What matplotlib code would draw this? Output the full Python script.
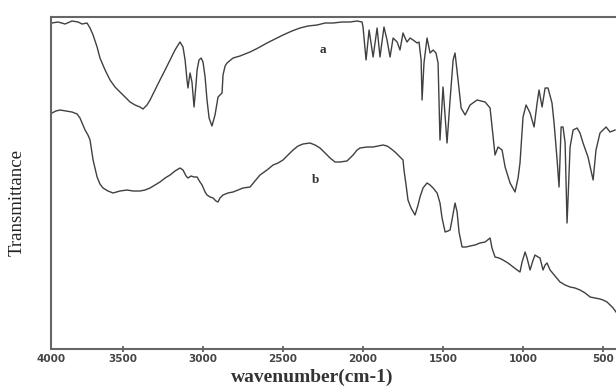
import matplotlib
matplotlib.use("Agg")
import matplotlib.pyplot as plt

# Spectrum a (wavenumber in cm-1, transmittance in arbitrary units)
wn_a = [3944, 3906, 3862, 3819, 3781, 3756, 3725, 3706, 3687, 3662, 3644, 3612, 3581, 3550,
        3519, 3487, 3456, 3425, 3394, 3375, 3350, 3331, 3300, 3269, 3237, 3206, 3175, 3144,
        3125, 3112, 3100, 3094, 3081, 3069, 3056, 3044, 3037, 3025, 3012, 3000, 2987, 2975,
        2962, 2944, 2925, 2906, 2894, 2881, 2875, 2862, 2850, 2812, 2769, 2706, 2656, 2600,
        2550, 2500, 2444, 2394, 2344, 2287, 2237, 2187, 2131, 2081, 2037, 2006, 2000, 1981,
        1962, 1937, 1912, 1894, 1869, 1850, 1831, 1812, 1787, 1769, 1750, 1737, 1725, 1706,
        1687, 1662, 1650, 1637, 1631, 1619, 1600, 1581, 1562, 1544, 1531, 1519, 1500, 1475,
        1456, 1437, 1425, 1406, 1387, 1362, 1331, 1287, 1237, 1206, 1175, 1156, 1131, 1112,
        1081, 1050, 1031, 1019, 1000, 981, 956, 931, 912, 900, 881, 862, 844, 819, 806, 787,
        775, 762, 750, 737, 725, 719, 706, 687, 662, 644, 625, 594, 562, 544, 519, 481, 456, 425]
t_a = [326, 327, 325, 328, 327, 325, 326, 321, 314, 302, 291, 279, 269, 262,
       257, 252, 247, 244, 242, 240, 244, 249, 259, 269, 279, 289, 299, 307,
       302, 289, 269, 261, 276, 267, 242, 264, 279, 289, 291, 287, 272, 249,
       231, 223, 234, 252, 254, 256, 274, 283, 286, 291, 293, 297, 301, 306,
       310, 314, 318, 321, 323, 324, 326, 326, 327, 327, 328, 327, 322, 289,
       319, 292, 321, 292, 322, 309, 292, 311, 307, 299, 316, 311, 307, 311,
       309, 306, 307, 289, 249, 286, 311, 296, 299, 296, 286, 209, 262, 206,
       249, 289, 296, 269, 241, 234, 244, 249, 247, 241, 194, 202, 199, 182,
       166, 157, 171, 186, 232, 244, 236, 222, 246, 259, 242, 261, 261, 246, 226, 189,
       162, 222, 222, 206, 126, 149, 202, 219, 221, 216, 206, 192, 169, 199, 216, 222, 217, 219]

# Spectrum b
wn_b = [3944, 3919, 3894, 3856, 3819, 3787, 3769, 3737, 3719, 3706, 3687, 3662, 3644, 3625,
        3594, 3562, 3519, 3475, 3437, 3394, 3362, 3331, 3300, 3269, 3237, 3206, 3175, 3144,
        3125, 3106, 3094, 3075, 3056, 3037, 3019, 3006, 2987, 2975, 2956, 2937, 2919, 2906,
        2894, 2875, 2844, 2812, 2781, 2750, 2706, 2675, 2644, 2600, 2562, 2531, 2500, 2469,
        2437, 2406, 2375, 2331, 2300, 2269, 2237, 2206, 2175, 2144, 2100, 2081, 2062, 2037,
        2019, 1975, 1937, 1906, 1875, 1850, 1831, 1800, 1769, 1750, 1744, 1731, 1719, 1700,
        1675, 1656, 1644, 1625, 1600, 1581, 1562, 1537, 1519, 1506, 1487, 1469, 1456, 1444,
        1425, 1412, 1400, 1381, 1356, 1331, 1300, 1269, 1237, 1206, 1194, 1175, 1150, 1125,
        1094, 1062, 1037, 1019, 1006, 987, 975, 956, 937, 925, 906, 894, 875, 862, 850, 831,
        800, 769, 737, 706, 675, 644, 612, 581, 550, 519, 500, 475, 456, 437, 419]
t_b = [236, 238, 239, 238, 237, 235, 231, 219, 214, 209, 189, 172, 165, 161,
       158, 156, 158, 159, 158, 158, 159, 161, 164, 167, 171, 174, 178, 181,
       179, 173, 171, 173, 172, 172, 167, 164, 157, 154, 152, 151, 148, 147,
       151, 154, 156, 157, 159, 161, 162, 168, 174, 179, 184, 186, 189, 194,
       199, 203, 205, 206, 204, 201, 196, 191, 187, 187, 188, 191, 194, 199,
       201, 202, 202, 203, 204, 203, 201, 197, 192, 189, 179, 164, 149, 141,
       134, 144, 152, 161, 166, 164, 161, 156, 146, 131, 117, 118, 119, 129,
       146, 137, 117, 102, 102, 103, 104, 106, 107, 111, 101, 92, 91, 89,
       86, 82, 79, 77, 87, 97, 91, 79, 89, 94, 92, 91, 79, 84, 86, 79,
       73, 67, 64, 62, 61, 59, 56, 52, 51, 50, 49, 47, 44, 41, 37]

tick_vals = [3500, 3000, 2500, 2000, 1500, 1000, 500]
tick_labels = ["3500", "3000", "2500", "2000", "1500", "1000", "500"]
curve_labels = ["a", "b"]

W, H = 616, 386
fig = plt.figure(figsize=(W / 100, H / 100), dpi=100)
ax = fig.add_axes([51 / W, 37 / H, 1 - 51 / W, 332 / H])

line_color = "#404040"
ax.plot(wn_a, t_a, color=line_color, lw=1.0)
ax.plot(wn_b, t_b, color=line_color, lw=1.0)

ax.set_xlim(3950, 419)
ax.set_ylim(0, 332)
ax.set_yticks([])
ax.set_xticks(tick_vals)
ax.set_xticklabels(tick_labels, fontsize=7.5, color="#444444", fontweight="bold")
ax.tick_params(axis="x", direction="inout", length=5, width=1.2, color="#555555", pad=1)
ax.text(3950, -5, "4000", ha="center", va="top", fontsize=7.5, color="#444444",
        fontweight="bold", clip_on=False)

for s in ["top", "left", "bottom"]:
    ax.spines[s].set_color("#666666")
    ax.spines[s].set_linewidth(1.5)
ax.spines["right"].set_visible(False)

ax.text(2250, 299, curve_labels[0], fontsize=9.5, fontweight="bold", family="Liberation Serif",
        color="#333333", ha="center", va="center")
ax.text(2300, 169, curve_labels[1], fontsize=9.5, fontweight="bold", family="Liberation Serif",
        color="#333333", ha="center", va="center")

fig.text(17 / W, 1 - 202 / H, "Transmittance", rotation=90, family="Liberation Serif",
         fontsize=13.5, color="#222222", ha="center", va="center")
fig.text(312 / W, 1 - 377 / H, "wavenumber(cm-1)", family="Liberation Serif",
         fontsize=14, fontweight="bold", color="#333333", ha="center", va="center")

fig.savefig("out.png", dpi=100, facecolor="white")
